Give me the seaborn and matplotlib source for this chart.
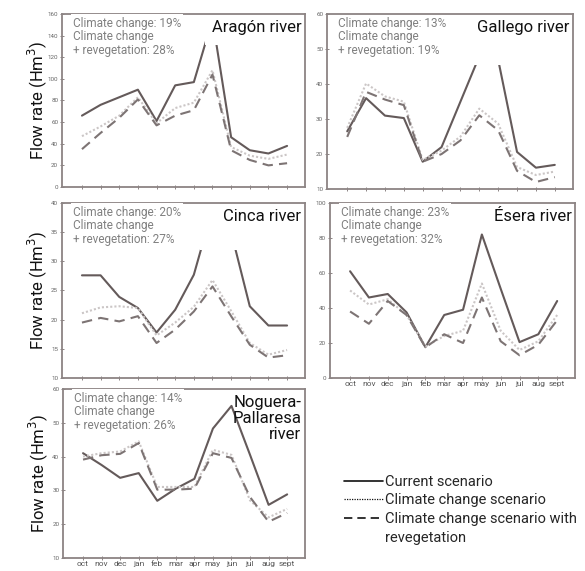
import numpy as np
import pandas as pd
import matplotlib
matplotlib.use("Agg")
import matplotlib.pyplot as plt
from matplotlib.lines import Line2D
from matplotlib.patches import Rectangle
import seaborn as sns

# month labels and river series (Hm3)
months = ["oct", "nov", "dec", "jan", "feb", "mar", "apr", "may", "jun", "jul", "aug", "sept"]
scenarios = ["Current", "Climate change", "Climate change + revegetation"]

aragon_current = [66, 76, 83, 90, 61, 94, 97, 155, 46, 34, 31, 38]
aragon_cc = [47, 56, 66, 83, 59, 73, 78, 108, 37, 29, 26, 30]
aragon_ccr = [35, 50, 64, 81, 57, 66, 71, 104, 34, 25, 20, 22]

gallego_current = [26.5, 36, 31, 30.3, 17.8, 22, 35, 48, 47, 20.6, 16.1, 16.9]
gallego_cc = [27.5, 40.2, 36.5, 35, 18.3, 21, 25, 33, 28.7, 16.3, 14, 15]
gallego_ccr = [24.9, 37.8, 35.6, 34, 17.8, 20, 23.9, 31.1, 26.8, 15.2, 12, 13.4]

cinca_current = [27.6, 27.6, 23.9, 22, 17.8, 21.7, 27.7, 39, 35, 22.3, 19, 19]
cinca_cc = [21.1, 22.1, 22.3, 22, 17.3, 19.5, 22.2, 26.8, 21.5, 16, 14, 14.8]
cinca_ccr = [19.5, 20.3, 19.7, 20.6, 16, 18.3, 21.4, 25.7, 20.6, 15.7, 13.5, 13.9]

esera_current = [61, 46, 48, 37.5, 17.6, 36, 39, 82, 51, 20.5, 25, 44]
esera_cc = [50, 42, 45, 36, 18, 24, 27, 54, 27, 16, 21, 36]
esera_ccr = [38, 31, 44, 36, 17.5, 25, 20, 46, 21, 13, 19, 33]

noguera_current = [41, 37.5, 33.7, 35.1, 26.9, 30.5, 33.4, 48.3, 55, 40.5, 25.7, 28.8]
noguera_cc = [40, 41, 41.5, 44.5, 31, 31, 31, 42, 40.5, 27, 22, 24.5]
noguera_ccr = [39.1, 40.4, 40.8, 44, 30.2, 30.2, 30.5, 41, 39.6, 28, 20.7, 23.3]

river_names = ["Aragón river", "Gallego river", "Cinca river", "Ésera river", "Noguera-\nPallaresa\nriver"]
cc_pct = [19, 13, 20, 23, 14]
ccr_pct = [28, 19, 27, 32, 26]
y_limits = [(0, 160), (10, 60), (10, 40), (0, 100), (10, 60)]
y_steps = [20, 10, 5, 20, 10]

series = [
    (aragon_current, aragon_cc, aragon_ccr),
    (gallego_current, gallego_cc, gallego_ccr),
    (cinca_current, cinca_cc, cinca_ccr),
    (esera_current, esera_cc, esera_ccr),
    (noguera_current, noguera_cc, noguera_ccr),
]

rows = []
for river, vals in zip(river_names, series):
    for scen, v in zip(scenarios, vals):
        for i, m in enumerate(months):
            rows.append({"river": river, "scenario": scen, "month": i, "flow": v[i]})
df = pd.DataFrame(rows)

sns.set_theme(style="white")
plt.rcParams['font.family'] = ['Roboto', 'DejaVu Sans']

palette = {"Current": "#645a5a", "Climate change": "#cbc6c6",
           "Climate change + revegetation": "#7d7474"}
dashes = {"Current": "", "Climate change": (1, 1), "Climate change + revegetation": (5, 3)}

fig = plt.figure(figsize=(5.85, 5.71), dpi=100)

# [left, bottom, width, height] in figure fraction
positions = [
    [0.106, 0.6725, 0.415, 0.303],
    [0.559, 0.669, 0.420, 0.306],
    [0.106, 0.338, 0.415, 0.3065],
    [0.564, 0.338, 0.419, 0.3065],
    [0.108, 0.023, 0.413, 0.2957],
]
# white areas hiding the peaks behind the river name (axes fraction)
covers = [(0.59, 0.82), (0.57, 0.71), (0.57, 0.73), (0.62, 0.84), (0.74, 0.88)]
show_xlabels = [False, False, False, True, True]
show_ylabel = [True, False, True, False, True]

spine_col = "#8c8484"
for k, river in enumerate(river_names):
    ax = fig.add_axes(positions[k])
    sub = df[df["river"] == river]
    sns.lineplot(data=sub, x="month", y="flow", hue="scenario", style="scenario",
                 hue_order=scenarios, style_order=scenarios, palette=palette,
                 dashes=dashes, linewidth=1.5, legend=False, ax=ax, zorder=2)
    ax.set_xlim(-1.07, 11.95)
    lo, hi = y_limits[k]
    ax.set_ylim(lo, hi)
    ax.set_yticks(np.arange(lo, hi + 0.1, y_steps[k]))
    ax.set_xticks(range(12))
    if show_xlabels[k]:
        ax.set_xticklabels(months, fontsize=6, color="#555555")
    else:
        ax.set_xticklabels([])
    ax.tick_params(axis="y", labelsize=4.5, labelcolor="#666666", pad=1)
    ax.tick_params(axis="x", pad=0.5)
    ax.tick_params(axis="both", direction="inout", length=3.5, width=0.7,
                   color=spine_col, left=True, bottom=True)
    for s in ax.spines.values():
        s.set_color(spine_col)
        s.set_linewidth(1.3)
    ax.set_xlabel("")
    if show_ylabel[k]:
        ax.set_ylabel("Flow rate (Hm$^3$)", fontsize=12, color="#111111")
        ax.yaxis.set_label_coords(-0.055, 0.5)
    else:
        ax.set_ylabel("")

    cx, cy = covers[k]
    ax.add_patch(Rectangle((cx, cy), 0.995 - cx, 0.995 - cy, transform=ax.transAxes,
                           facecolor="white", edgecolor="none", zorder=3))
    ax.text(0.985, 0.965, river, transform=ax.transAxes, ha="right", va="top",
            fontsize=12, color="#111111", zorder=4, linespacing=1.1)
    ax.text(0.045, 0.985, f"Climate change: {cc_pct[k]}%\nClimate change\n+ revegetation: {ccr_pct[k]}%",
            transform=ax.transAxes, ha="left", va="top", fontsize=8.5, color="#808080",
            linespacing=1.05, zorder=4,
            bbox=dict(facecolor="white", edgecolor="none", pad=1.5))

handles = [
    Line2D([], [], color="#111111", lw=1.2, ls="-"),
    Line2D([], [], color="#111111", lw=0.9, ls=(0, (1, 1))),
    Line2D([], [], color="#111111", lw=1.2, ls=(0, (5, 3))),
    Line2D([], [], ls="none"),
]
labels = ["Current scenario", "Climate change scenario",
          "Climate change scenario with", "revegetation"]
fig.legend(handles, labels, loc="upper left", bbox_to_anchor=(0.578, 0.179),
           frameon=False, fontsize=10.5, handlelength=2.7, handletextpad=0.1,
           labelspacing=0.32, borderaxespad=0)

fig.savefig("out.png", dpi=100)
